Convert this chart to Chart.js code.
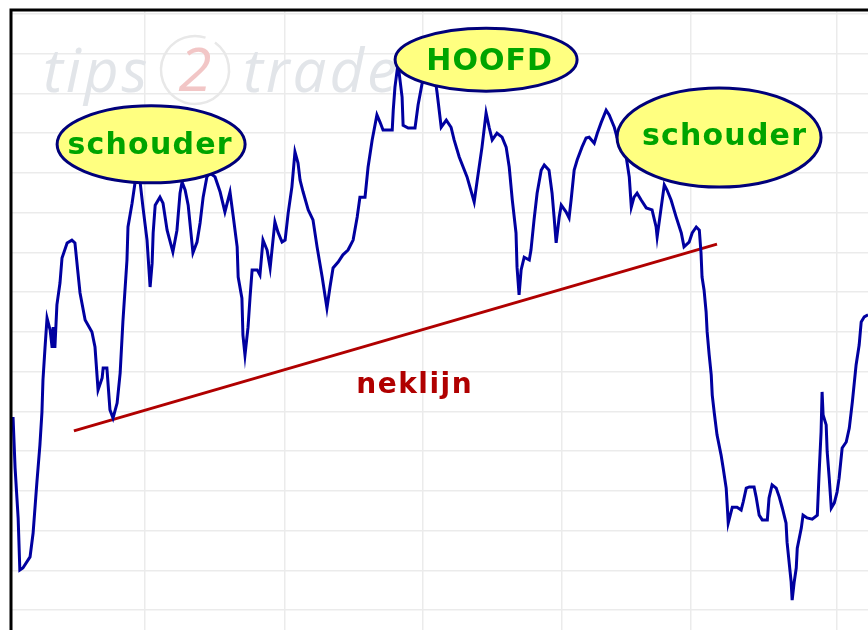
<!DOCTYPE html>
<html lang="nl">
<head>
<meta charset="utf-8">
<title>Hoofd-schouderformatie</title>
<script src="https://cdn.jsdelivr.net/npm/chart.js@4.4.1/dist/chart.umd.min.js"></script>
<style>
  html, body { margin: 0; padding: 0; background: #ffffff; }
  #chart { display: block; }
</style>
</head>
<body>
<canvas id="chart" width="868" height="630"></canvas>
<script>
// Données (jour de bourse, cours)
const days = [
  0.6, 1.2, 2.1, 2.6, 3.5, 5.6, 6.5, 7.6, 8.5, 9.1,
  9.4, 10.0, 10.6, 11.5, 12.1, 12.4, 12.9, 13.5, 14.4, 15.0,
  16.5, 17.9, 18.8, 19.7, 20.3, 21.8, 23.8, 24.7, 25.6, 26.8,
  27.1, 28.2, 29.1, 30.0, 31.2, 32.1, 32.9, 34.1, 34.4, 35.6,
  36.5, 37.1, 37.9, 38.8, 40.0, 40.9, 41.5, 41.8, 42.4, 43.8,
  44.7, 45.9, 47.6, 48.8, 49.7, 50.3, 51.2, 52.1, 53.5, 54.7,
  55.6, 56.5, 57.6, 58.5, 60.0, 61.5, 62.9, 64.4, 65.3, 66.5,
  66.8, 67.9, 68.2, 68.8, 69.7, 70.3, 70.9, 72.4, 73.2, 74.1,
  75.3, 76.2, 76.8, 77.6, 78.5, 79.7, 80.6, 81.5, 82.6, 83.5,
  84.4, 85.0, 85.9, 87.4, 88.8, 90.0, 91.5, 92.4, 92.9, 93.8,
  94.7, 96.2, 97.6, 99.1, 100.6, 101.8, 102.6, 104.1, 105.0, 106.2,
  107.6, 108.5, 109.4, 112.1, 112.4, 112.9, 113.8, 115.0, 115.3, 116.8,
  118.8, 119.7, 120.9, 122.1, 123.2, 124.7, 125.3, 126.5, 128.0, 129.4,
  130.3, 131.8, 134.1, 136.2, 137.1, 138.5, 139.7, 140.6, 141.5, 142.9,
  144.4, 145.6, 146.5, 147.4, 148.5, 148.8, 149.4, 150.0, 150.9, 152.4,
  152.9, 153.8, 154.7, 155.9, 156.8, 158.2, 159.1, 159.7, 160.3, 161.2,
  161.8, 163.2, 164.1, 164.7, 165.6, 166.5, 167.9, 169.1, 170.0, 171.5,
  172.4, 173.5, 175.0, 175.9, 177.4, 178.2, 179.4, 180.9, 181.8, 182.4,
  183.2, 184.1, 185.3, 186.8, 188.5, 189.7, 190.0, 191.2, 192.1, 192.9,
  194.1, 195.6, 197.1, 197.9, 199.4, 200.3, 201.5, 202.4, 202.9, 203.2,
  203.8, 204.4, 204.7, 205.3, 205.9, 206.2, 206.8, 207.6, 208.8, 209.4,
  210.3, 210.6, 210.9, 211.5, 212.1, 213.5, 214.7, 215.3, 216.2, 217.1,
  218.5, 219.1, 220.0, 220.9, 222.4, 222.9, 223.8, 225.0, 225.9, 226.8,
  227.9, 228.2, 228.8, 229.4, 229.7, 230.3, 230.9, 231.2, 232.4, 232.9,
  234.1, 235.6, 237.1, 237.6, 238.2, 238.5, 238.8, 239.7, 240.0, 240.6,
  241.2, 242.1, 242.9, 243.5, 244.4, 245.6, 246.5, 247.4, 248.5, 249.4,
  250.0, 250.9, 252.0
];
const prices = [
  68.6, 55.8, 43.2, 30.1, 30.6, 33.4, 39.4, 52.0, 61.5, 69.8,
  77.9, 86.0, 93.5, 90.5, 86.0, 91.2, 86.0, 96.8, 102.3, 108.6,
  112.4, 113.1, 112.4, 104.8, 99.8, 93.0, 90.0, 86.2, 75.4, 78.4,
  80.9, 80.9, 70.4, 68.3, 72.1, 79.7, 92.5, 108.1, 116.4, 122.4,
  127.7, 132.5, 128.2, 121.4, 113.1, 101.3, 107.3, 114.9, 121.9, 123.9,
  122.4, 115.6, 110.1, 115.6, 124.9, 127.7, 125.7, 121.9, 109.9, 112.6,
  117.4, 123.9, 129.0, 130.0, 129.0, 125.2, 120.2, 125.2, 119.4, 111.4,
  103.8, 98.5, 89.2, 84.2, 91.2, 98.8, 105.6, 105.6, 104.3, 113.1,
  110.6, 106.1, 111.1, 117.7, 115.1, 112.6, 113.1, 119.9, 126.5, 135.3,
  132.5, 128.2, 125.2, 120.7, 118.2, 111.4, 103.8, 98.8, 96.0, 101.3,
  106.1, 107.6, 109.4, 110.6, 113.1, 118.9, 123.9, 123.9, 131.5, 138.3,
  144.6, 142.8, 140.8, 140.8, 145.8, 151.6, 157.5, 149.1, 142.0, 141.3,
  141.3, 147.1, 152.6, 153.4, 152.9, 153.9, 150.1, 141.5, 143.3, 141.5,
  138.3, 134.0, 129.0, 122.7, 128.2, 136.5, 145.1, 141.5, 138.3, 140.0,
  139.0, 136.5, 131.5, 123.2, 114.9, 106.3, 99.3, 105.6, 108.8, 108.1,
  110.6, 118.2, 124.9, 130.7, 132.0, 130.7, 124.9, 118.9, 112.4, 118.9,
  121.9, 120.2, 118.7, 123.2, 130.7, 133.3, 136.5, 138.8, 139.0, 137.5,
  140.0, 142.6, 145.8, 144.6, 141.5, 139.0, 136.5, 134.0, 129.0, 121.4,
  123.9, 124.9, 123.2, 121.2, 120.7, 116.4, 113.9, 121.4, 127.0, 125.7,
  123.2, 118.9, 114.9, 111.4, 112.6, 114.9, 116.4, 115.6, 109.9, 103.8,
  100.5, 95.0, 90.0, 84.2, 79.2, 74.1, 69.6, 64.1, 59.0, 55.8,
  50.7, 46.5, 41.9, 43.9, 45.9, 45.9, 45.2, 47.2, 50.7, 51.0,
  51.0, 48.5, 43.9, 42.7, 42.7, 48.2, 51.5, 50.7, 48.5, 45.7,
  41.9, 37.1, 32.1, 27.1, 22.5, 27.1, 30.6, 35.6, 40.7, 43.9,
  43.2, 42.9, 43.9, 54.0, 64.8, 74.9, 69.1, 66.6, 59.8, 53.2,
  45.7, 47.0, 49.7, 53.2, 60.8, 62.3, 65.8, 72.4, 81.7, 86.7,
  92.5, 93.8, 94.3
];

// Neklijn : deux extrémités
const neckDays = [18.5, 207.6];
const neckPrices = [65.1, 112.1];

// Lignes verticales de la grille (jours)
const gridDays = [39.4, 80.6, 121.2, 162.0, 200.0, 242.9];

// Étiquettes de la formation
const labelTexts = ['schouder', 'HOOFD', 'schouder'];
const labelDays = [41.2, 139.7, 208.2];
const labelPrices = [137.2, 158.5, 138.9];
const neckLabelText = 'neklijn';
const neckLabelDay = 118.7;
const neckLabelPrice = 74.6;

const COLORS = {
    price: '#0000a0',
    neck: '#b00000',
    grid: '#ebebeb',
    frame: '#000000',
    bubbleFill: '#ffff80',
    bubbleStroke: '#00007a',
    bubbleText: '#00a400',
    watermark: '#e2e5e9',
    watermarkTwo: '#f2c6c6'
};

// Taille des bulles et décalage du texte (pixels)
const BUBBLES = [
    { rx: 94, ry: 38.5, dx: -1, dy: 9.5 },
    { rx: 91, ry: 31.5, dx: 3.5, dy: 10.5 },
    { rx: 102, ry: 49.5, dx: 5.5, dy: 7.5 }
];

/**
 * Dessine le filigrane tips2trade derrière la courbe
 */
function drawWatermark(ctx, area) {
    const x0 = area.left;
    const y0 = area.top;
    ctx.save();
    ctx.font = 'italic 400 60px "Open Sans", "Liberation Sans", sans-serif';
    ctx.letterSpacing = '3px';
    ctx.textBaseline = 'alphabetic';
    ctx.fillStyle = COLORS.watermark;
    ctx.fillText('tips', x0 + 32, y0 + 82);
    ctx.fillText('trade', x0 + 232, y0 + 82);
    ctx.strokeStyle = '#e8e8e8';
    ctx.lineWidth = 2.5;
    ctx.beginPath();
    ctx.arc(x0 + 184, y0 + 60, 34, -Math.PI * 0.3, Math.PI * 1.6);
    ctx.stroke();
    ctx.letterSpacing = '0px';
    ctx.fillStyle = COLORS.watermarkTwo;
    ctx.textAlign = 'center';
    ctx.fillText('2', x0 + 184, y0 + 81);
    ctx.restore();
}

/**
 * Dessine une bulle jaune avec son texte
 */
function drawBubble(ctx, cx, cy, text, style) {
    ctx.save();
    ctx.beginPath();
    ctx.ellipse(cx, cy, style.rx, style.ry, 0, 0, Math.PI * 2);
    ctx.fillStyle = COLORS.bubbleFill;
    ctx.fill();
    ctx.lineWidth = 3;
    ctx.strokeStyle = COLORS.bubbleStroke;
    ctx.stroke();
    ctx.font = 'bold 30px "DejaVu Sans", Verdana, sans-serif';
    ctx.letterSpacing = text === 'HOOFD' ? '1px' : '1.2px';
    ctx.textAlign = 'center';
    ctx.textBaseline = 'alphabetic';
    ctx.fillStyle = COLORS.bubbleText;
    ctx.fillText(text, cx + style.dx, cy + style.dy);
    ctx.restore();
}

const formationPlugin = {
    id: 'formation',
    beforeDatasetsDraw(chart) {
        drawWatermark(chart.ctx, chart.chartArea);
    },
    afterDatasetsDraw(chart) {
        const { ctx, chartArea, scales } = chart;
        const xs = scales.x;
        const ys = scales.y;

        // Texte de la neklijn
        ctx.save();
        ctx.font = 'bold 28px "DejaVu Sans", Verdana, sans-serif';
        ctx.letterSpacing = '1.5px';
        ctx.textAlign = 'center';
        ctx.textBaseline = 'alphabetic';
        ctx.fillStyle = COLORS.neck;
        ctx.fillText(neckLabelText, xs.getPixelForValue(neckLabelDay), ys.getPixelForValue(neckLabelPrice));
        ctx.restore();

        // Bulles
        labelTexts.forEach((text, i) => {
            drawBubble(
                ctx,
                xs.getPixelForValue(labelDays[i]),
                ys.getPixelForValue(labelPrices[i]),
                text,
                BUBBLES[i]
            );
        });

        // Cadre noir en haut et à gauche
        ctx.save();
        ctx.strokeStyle = COLORS.frame;
        ctx.lineWidth = 3;
        ctx.beginPath();
        ctx.moveTo(chartArea.left, chartArea.bottom);
        ctx.lineTo(chartArea.left, chartArea.top);
        ctx.lineTo(chartArea.right, chartArea.top);
        ctx.stroke();
        ctx.restore();
    }
};

const pricePoints = days.map((d, i) => ({ x: d, y: prices[i] }));
const neckPoints = neckDays.map((d, i) => ({ x: d, y: neckPrices[i] }));

new Chart(document.getElementById('chart'), {
    type: 'line',
    data: {
        datasets: [
            {
                label: 'koers',
                data: pricePoints,
                borderColor: COLORS.price,
                borderWidth: 3,
                pointRadius: 0,
                tension: 0,
                fill: false
            },
            {
                label: 'neklijn',
                data: neckPoints,
                borderColor: COLORS.neck,
                borderWidth: 3,
                pointRadius: 0,
                tension: 0,
                fill: false
            }
        ]
    },
    options: {
        responsive: false,
        animation: false,
        devicePixelRatio: 1,
        layout: { padding: { left: 11, top: 10, right: 0, bottom: 0 } },
        plugins: {
            legend: { display: false },
            tooltip: { enabled: false }
        },
        scales: {
            x: {
                type: 'linear',
                min: 0,
                max: 252,
                afterBuildTicks: (scale) => {
                    scale.ticks = gridDays.map(v => ({ value: v }));
                },
                afterFit: (scale) => { scale.height = 0; },
                ticks: { display: false },
                border: { display: false },
                grid: { color: COLORS.grid, lineWidth: 1.5, drawTicks: false }
            },
            y: {
                type: 'linear',
                min: 15,
                max: 171,
                afterFit: (scale) => { scale.width = 0; },
                ticks: { display: false, stepSize: 10, includeBounds: false },
                border: { display: false },
                grid: { color: COLORS.grid, lineWidth: 1.5, drawTicks: false }
            }
        }
    },
    plugins: [formationPlugin]
});
</script>
</body>
</html>
